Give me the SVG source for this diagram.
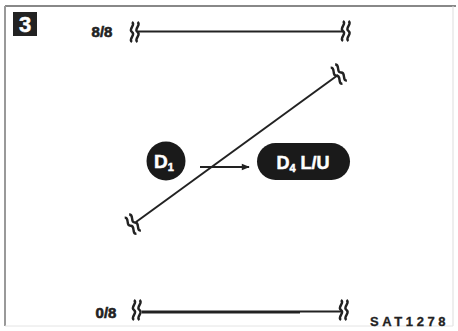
<svg xmlns="http://www.w3.org/2000/svg" width="458" height="331" viewBox="0 0 458 331">
<style>
.ln{stroke:#222;fill:none}
.lbl{font-family:"Liberation Sans",Arial,sans-serif;font-weight:bold;fill:#222;stroke:#222;stroke-width:0.6}
.wt{font-family:"Liberation Sans",Arial,sans-serif;font-weight:bold;fill:#fff;stroke:#fff;stroke-width:0.5}
</style>
<defs>
<g id="brk">
<path class="ln" stroke-width="2.4" d="M-3,-10 c4.5,3 -4.5,7 0,10 c4.5,3 -4.5,7 0,10"/>
<path class="ln" stroke-width="2.4" d="M2.5,-10 c4.5,3 -4.5,7 0,10 c4.5,3 -4.5,7 0,10"/>
</g>
<marker id="ah" viewBox="0 0 10 10" refX="9" refY="5" markerWidth="9" markerHeight="8" orient="auto" markerUnits="userSpaceOnUse">
<path d="M0,1 L10,5 L0,9 Z" fill="#222"/>
</marker>
</defs>
<rect width="458" height="331" fill="#fff"/>
<g id="frame">
<line x1="5" y1="6" x2="456" y2="6" stroke="#888" stroke-width="2"/>
<line x1="5" y1="6" x2="5" y2="326" stroke="#999" stroke-width="2"/>
<line x1="453" y1="6" x2="453" y2="326" stroke="#ddd" stroke-width="1"/>
<line x1="5" y1="326" x2="453" y2="326" stroke="#e4e4e4" stroke-width="1"/>
</g>
<g id="badge">
<rect x="13" y="12" width="24" height="24" fill="#222"/>
<text class="wt" x="25" y="32" font-size="22" text-anchor="middle">3</text>
</g>
<g id="connectors">
<line class="ln" stroke-width="2" x1="138" y1="31.5" x2="343" y2="31.5"/>
<use href="#brk" x="135" y="32"/>
<use href="#brk" x="346" y="31"/>
<line class="ln" stroke-width="3" x1="142" y1="312" x2="300" y2="312"/>
<line class="ln" stroke-width="1.8" x1="300" y1="311.5" x2="342" y2="311.5"/>
<use href="#brk" x="137" y="310"/>
<use href="#brk" x="344" y="310"/>
<line class="ln" stroke-width="2" x1="136" y1="222" x2="338" y2="75"/>
<use href="#brk" transform="translate(339,74) rotate(-36)"/>
<use href="#brk" transform="translate(133,224) rotate(-36)"/>
<line class="ln" stroke-width="1.8" x1="200" y1="167" x2="249" y2="167" marker-end="url(#ah)"/>
</g>
<g id="label-top">
<text class="lbl" x="102" y="36.5" font-size="15" text-anchor="middle">8/8</text>
</g>
<g id="label-bottom">
<text class="lbl" x="106" y="317.5" font-size="15" text-anchor="middle">0/8</text>
</g>
<g id="node-d1">
<circle cx="166" cy="161" r="19.5" fill="#1a1a1a"/>
<text class="wt" x="164" y="168" font-size="19" text-anchor="middle">D<tspan font-size="11" dy="3">1</tspan></text>
</g>
<g id="node-d4">
<rect x="257" y="143" width="93" height="37" rx="18.5" fill="#1a1a1a"/>
<text class="wt" x="303" y="168.5" font-size="18" text-anchor="middle">D<tspan font-size="11" dy="3">4</tspan><tspan dy="-3"> L/U</tspan></text>
</g>
<g id="code">
<text class="lbl" x="370" y="326" font-size="13" letter-spacing="3.6" style="stroke-width:0.3">SAT1278</text>
</g>
</svg>
